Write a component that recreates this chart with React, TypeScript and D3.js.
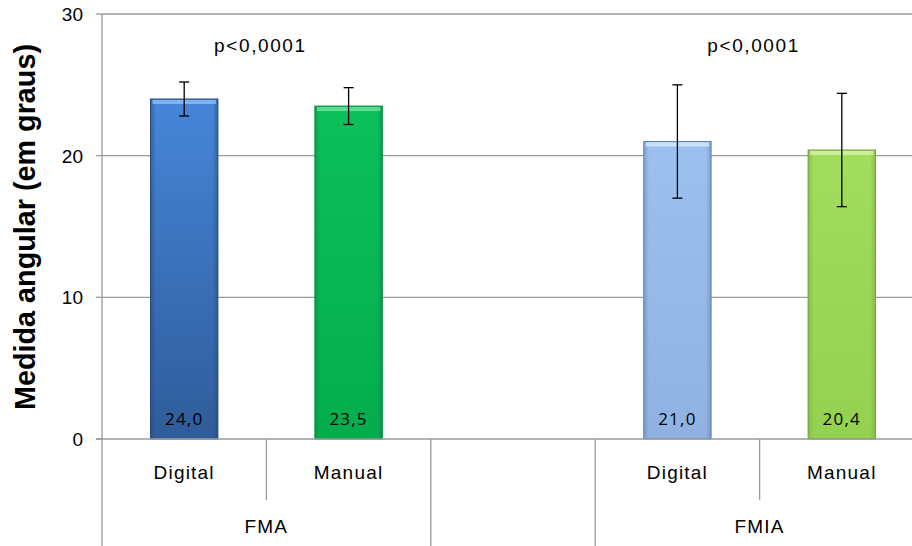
import React from "react";
import * as d3 from "d3";

const categories = ["Digital", "Manual", "", "Digital", "Manual"];
const groups = ["FMA", "", "FMIA"];
const groupSpans = [2, 1, 2];
const values = [24.0, 23.5, null, 21.0, 20.4];
const errors = [1.2, 1.3, null, 4.0, 4.0];
const valueLabels = ["24,0", "23,5", "", "21,0", "20,4"];
const yTicks = [0, 10, 20, 30];
const pLabels = ["p<0,0001", "p<0,0001"];
const pGroupIdx = [0, 2];

const W = 912, H = 546;
const colors = [
  { top: "#4686d8", bot: "#2f5c9a", stroke: "#26497a", hi: "#8fbdf0" },
  { top: "#0cc05c", bot: "#04ad4c", stroke: "#078a3f", hi: "#6fe59d" },
  null,
  { top: "#9dc1ee", bot: "#8fb2e2", stroke: "#6585ad", hi: "#d6ebff" },
  { top: "#a2dd5e", bot: "#94d150", stroke: "#72a53c", hi: "#d4f4a4" },
];

export default function App() {
  const left = 102, right = 924, top = 14, bottom = 439;
  const x = d3.scaleBand<number>().domain(d3.range(categories.length)).range([left, right]).paddingInner(0).paddingOuter(0);
  const y = d3.scaleLinear().domain([0, 30]).range([bottom, top]);
  const bw = x.bandwidth();
  const barW = bw * 0.41;
  const font = "Liberation Sans, Arial, sans-serif";
  const grid = "#9a9a9a";

  const groupBounds: number[] = [];
  let acc = 0;
  groupSpans.forEach((s) => { groupBounds.push(acc); acc += s; });
  const groupX = (gi: number) => x(groupBounds[gi])!;
  const groupW = (gi: number) => groupSpans[gi] * bw;

  return (
    <svg width={W} height={H} style={{ position: "absolute", left: 0, top: 0, background: "#fff" }}>
      <defs>
        {colors.map((c, i) => c && (
          <linearGradient key={i} id={`g${i}`} x1="0" y1="0" x2="0" y2="1">
            <stop offset="0" stopColor={c.top} />
            <stop offset="1" stopColor={c.bot} />
          </linearGradient>
        ))}
        {colors.map((c, i) => c && (
          <linearGradient key={i} id={`h${i}`} x1="0" y1="0" x2="1" y2="0">
            <stop offset="0" stopColor={c.stroke} stopOpacity="0.55" />
            <stop offset="0.08" stopColor={c.stroke} stopOpacity="0" />
            <stop offset="0.92" stopColor={c.stroke} stopOpacity="0" />
            <stop offset="1" stopColor={c.stroke} stopOpacity="0.55" />
          </linearGradient>
        ))}
      </defs>
      {yTicks.filter((t) => t > 0).map((t) => (
        <line key={t} x1={left} x2={W} y1={y(t)} y2={y(t)} stroke={grid} strokeWidth={1.3} />
      ))}
      {yTicks.map((t) => (
        <g key={t}>
          <line x1={96} x2={left} y1={y(t)} y2={y(t)} stroke={grid} strokeWidth={1.3} />
          <text x={83} y={y(t) + 7} textAnchor="end" fontFamily={font} fontSize={19}>{t}</text>
        </g>
      ))}
      {values.map((v, i) => {
        if (v == null) return null;
        const c = colors[i]!;
        const cx = x(i)! + bw / 2;
        const bx = cx - barW / 2;
        const by = y(v);
        const bh = y(0) - by;
        const e = errors[i]!;
        return (
          <g key={i}>
            <rect x={bx} y={by} width={barW} height={bh} fill={`url(#g${i})`} stroke={c.stroke} strokeWidth={1} />
            <rect x={bx} y={by} width={barW} height={bh} fill={`url(#h${i})`} />
            <rect x={bx + 2} y={by + 1} width={barW - 4} height={4} fill={c.hi} opacity={0.8} />
            <text x={cx} y={425} textAnchor="middle" fontFamily="Open Sans, sans-serif" fontSize={17} letterSpacing={1.2}>{valueLabels[i]}</text>
            <line x1={cx} x2={cx} y1={y(v + e)} y2={y(v - e)} stroke="#000" strokeWidth={1.3} />
            <line x1={cx - 5} x2={cx + 5} y1={y(v + e)} y2={y(v + e)} stroke="#000" strokeWidth={1.3} />
            <line x1={cx - 5} x2={cx + 5} y1={y(v - e)} y2={y(v - e)} stroke="#000" strokeWidth={1.3} />
          </g>
        );
      })}
      <line x1={left} x2={left} y1={top} y2={H} stroke={grid} strokeWidth={1.3} />
      <line x1={96} x2={W} y1={bottom} y2={bottom} stroke={grid} strokeWidth={1.3} />
      {categories.map((c, i) => (
        <text key={i} x={x(i)! + bw / 2} y={479} textAnchor="middle" fontFamily={font} fontSize={19} letterSpacing={1.2}>{c}</text>
      ))}
      {categories.map((_, i) => {
        if (i === 0) return null;
        const isGroupBoundary = groupBounds.includes(i);
        return (
          <line key={i} x1={x(i)!} x2={x(i)!} y1={bottom} y2={isGroupBoundary ? H : 500} stroke={grid} strokeWidth={1.3} />
        );
      })}
      {groups.map((g, gi) => (
        <text key={gi} x={groupX(gi) + groupW(gi) / 2} y={533} textAnchor="middle" fontFamily={font} fontSize={19} letterSpacing={1.2}>{g}</text>
      ))}
      {pLabels.map((p, k) => (
        <text key={k} x={groupX(pGroupIdx[k]) + groupW(pGroupIdx[k]) / 2 - 6} y={52} textAnchor="middle" fontFamily={font} fontSize={19} letterSpacing={1.6}>{p}</text>
      ))}
      <text transform={`translate(35,${227}) rotate(-90)`} textAnchor="middle" fontFamily={font} fontSize={29} fontWeight="bold" textLength={366} lengthAdjust="spacingAndGlyphs">Medida angular (em graus)</text>
    </svg>
  );
}
